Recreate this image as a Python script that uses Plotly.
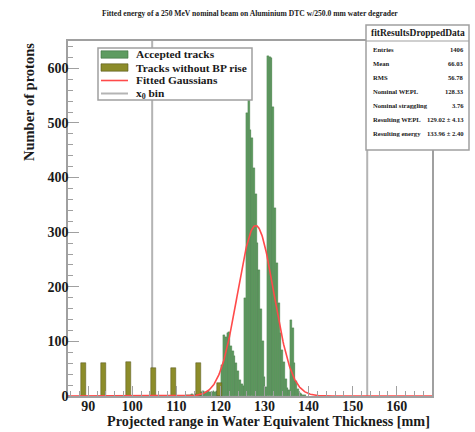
import numpy as np
import plotly.graph_objects as go

# ---------------- data ----------------
accepted_first_edge = 112.2   # mm, left edge of first accepted-track bin
accepted_bin_width = 0.4      # mm
accepted_counts = [
    1, 2, 1, 3, 2, 4, 6, 8, 7, 9,
    8, 7, 9, 8, 7, 9, 8, 10, 9, 12,
    56, 112, 108, 115, 117, 92, 82, 74, 60, 46,
    30, 22, 18, 180, 519, 590, 487, 473, 418, 370,
    280, 230, 160, 100, 35, 17, 622, 620, 618, 530,
    344, 243, 170, 115, 85, 62, 32, 15, 11, 140,
    125, 60, 28, 12, 6, 4, 2, 1,
]
nobp_centers = [88.9, 93.5, 99.1, 104.8, 109.3, 115.0, 119.75]
nobp_counts = [61, 61, 63, 52, 52, 60, 24]
x0_bins = [104.5, 153.3]
gauss_amp, gauss_mean, gauss_sigma = 312.0, 128.0, 4.1
x_range = [85.4, 168.0]
y_range = [0, 650]
x_ticks = [90, 100, 110, 120, 130, 140, 150, 160]
y_ticks = [0, 100, 200, 300, 400, 500, 600]

title_text = "Fitted energy of a 250 MeV nominal beam on Aluminium DTC w/250.0 mm water degrader"
x_title = "Projected range in Water Equivalent Thickness [mm]"
y_title = "Number of protons"
legend_labels = ["Accepted tracks", "Tracks without BP rise", "Fitted Gaussians", "x<sub>0</sub> bin"]
stats_title = "fitResultsDroppedData"
stats_labels = ["Entries", "Mean", "RMS", "Nominal WEPL", "Nominal straggling",
                "Resulting WEPL", "Resulting energy"]
stats_values = ["1406", "66.03", "56.78", "128.33", "3.76",
                "129.02 ± 4.13", "133.96 ± 2.40"]

# ---------------- styles ----------------
GREEN = "#5e9b60"
GREEN_EDGE = "#3c6e3e"
OLIVE = "#8c8c2a"
OLIVE_EDGE = "#55551a"
RED = "#ff4a4a"
GRAY = "#b4b4b4"
FRAME = "#a0a0a0"
TXT = "#1a1a1a"
SERIF = "Liberation Serif"

W, H = 475, 432
ML, MR, MT, MB = 68, 43, 41, 36
PW, PH = W - ML - MR, H - MT - MB


def px(x):
    return (x - ML) / PW


def py(y):
    return (H - MB - y) / PH


acc_centers = accepted_first_edge + accepted_bin_width * (np.arange(len(accepted_counts)) + 0.5)

gx = np.linspace(x_range[0], x_range[1], 600)
gy = gauss_amp * np.exp(-0.5 * ((gx - gauss_mean) / gauss_sigma) ** 2)

fig = go.Figure()
fig.add_trace(go.Bar(x=acc_centers, y=accepted_counts, width=accepted_bin_width,
                     marker=dict(color=GREEN, line=dict(color=GREEN_EDGE, width=0.3)),
                     showlegend=False, name=legend_labels[0]))
fig.add_trace(go.Bar(x=nobp_centers, y=nobp_counts, width=1.1,
                     marker=dict(color=OLIVE, line=dict(color=OLIVE_EDGE, width=0.5)),
                     showlegend=False, name=legend_labels[1]))
fig.add_trace(go.Scatter(x=gx, y=gy, mode="lines", line=dict(color=RED, width=1.6),
                         showlegend=False, name=legend_labels[2]))

shapes = []
for xb in x0_bins:
    shapes.append(dict(type="line", xref="x", yref="paper", x0=xb, x1=xb, y0=0, y1=1,
                       line=dict(color=GRAY, width=2), layer="below"))

annotations = []


def txt(x, y, s, size, xanchor="center", yanchor="middle", angle=0):
    annotations.append(dict(x=x, y=y, xref="paper", yref="paper", text=s, showarrow=False,
                            xanchor=xanchor, yanchor=yanchor, textangle=angle,
                            font=dict(family=SERIF, size=size, color=TXT, weight="bold")))


# title & axis titles
txt(px(250), py(13), title_text, 7.6)
txt(1.0, py(421), x_title, 14.2, xanchor="right")
txt(px(29), 1.0, y_title, 14.5, yanchor="top", angle=-90)

# legend box
shapes.append(dict(type="rect", xref="paper", yref="paper", x0=px(98), x1=px(252),
                   y0=py(100), y1=py(48), fillcolor="white",
                   line=dict(color=FRAME, width=1.5), layer="above"))
row_y = [54.5 + 13 * i for i in range(4)]
shapes.append(dict(type="rect", xref="paper", yref="paper", x0=px(101), x1=px(128),
                   y0=py(row_y[0] + 3.7), y1=py(row_y[0] - 3.7), fillcolor=GREEN,
                   line=dict(color=GREEN_EDGE, width=0.6), layer="above"))
shapes.append(dict(type="rect", xref="paper", yref="paper", x0=px(101), x1=px(128),
                   y0=py(row_y[1] + 3.7), y1=py(row_y[1] - 3.7), fillcolor=OLIVE,
                   line=dict(color=OLIVE_EDGE, width=0.6), layer="above"))
shapes.append(dict(type="line", xref="paper", yref="paper", x0=px(101), x1=px(128),
                   y0=py(row_y[2]), y1=py(row_y[2]), line=dict(color=RED, width=1.6),
                   layer="above"))
shapes.append(dict(type="line", xref="paper", yref="paper", x0=px(101), x1=px(128),
                   y0=py(row_y[3]), y1=py(row_y[3]), line=dict(color=GRAY, width=2),
                   layer="above"))
for lab, yy in zip(legend_labels, row_y):
    txt(px(134), py(yy), lab, 11.4, xanchor="left")

# stats box
shapes.append(dict(type="rect", xref="paper", yref="paper", x0=px(366), x1=px(469),
                   y0=py(150), y1=py(25), fillcolor="white",
                   line=dict(color=FRAME, width=1.5), layer="above"))
shapes.append(dict(type="line", xref="paper", yref="paper", x0=px(366), x1=px(469),
                   y0=py(41), y1=py(41), line=dict(color=FRAME, width=1.2), layer="above"))
txt(px(417.5), py(33), stats_title, 9.5)
for i, (lab, val) in enumerate(zip(stats_labels, stats_values)):
    yy = 49.3 + 14.1 * i
    txt(px(370.5), py(yy), lab, 6.6, xanchor="left")
    txt(px(466), py(yy), val, 6.6, xanchor="right")

tickfont = dict(family=SERIF, size=14, color=TXT, weight="bold")
fig.update_layout(
    width=W, height=H,
    margin=dict(l=ML, r=MR, t=MT, b=MB, autoexpand=False),
    paper_bgcolor="white", plot_bgcolor="white",
    barmode="overlay", bargap=0,
    showlegend=False,
    shapes=shapes, annotations=annotations,
    xaxis=dict(range=x_range, tickmode="array", tickvals=x_ticks, ticks="inside",
               ticklen=10, tickcolor=FRAME, tickwidth=1, showline=True, mirror=True,
               linecolor=FRAME, linewidth=1.5, showgrid=False, zeroline=False,
               tickfont=tickfont, ticklabelstandoff=-4,
               minor=dict(dtick=2, tick0=0, ticks="inside", ticklen=5, tickcolor=FRAME,
                          showgrid=False)),
    yaxis=dict(range=y_range, tickmode="array", tickvals=y_ticks, ticks="inside",
               ticklen=11, tickcolor=FRAME, tickwidth=1, showline=True, mirror=True,
               linecolor=FRAME, linewidth=1.5, showgrid=False, zeroline=False,
               tickfont=tickfont, ticklabelstandoff=-5,
               minor=dict(dtick=20, tick0=0, ticks="inside", ticklen=5, tickcolor=FRAME,
                          showgrid=False)),
)

fig.write_html("out.html", config={"displayModeBar": False})

# remove the browser's default page margin so the figure sits at the window origin
with open("out.html", "r", encoding="utf-8") as f:
    html = f.read()
html = html.replace("<body>", '<body style="margin:0;padding:0;overflow:hidden">', 1)
with open("out.html", "w", encoding="utf-8") as f:
    f.write(html)
